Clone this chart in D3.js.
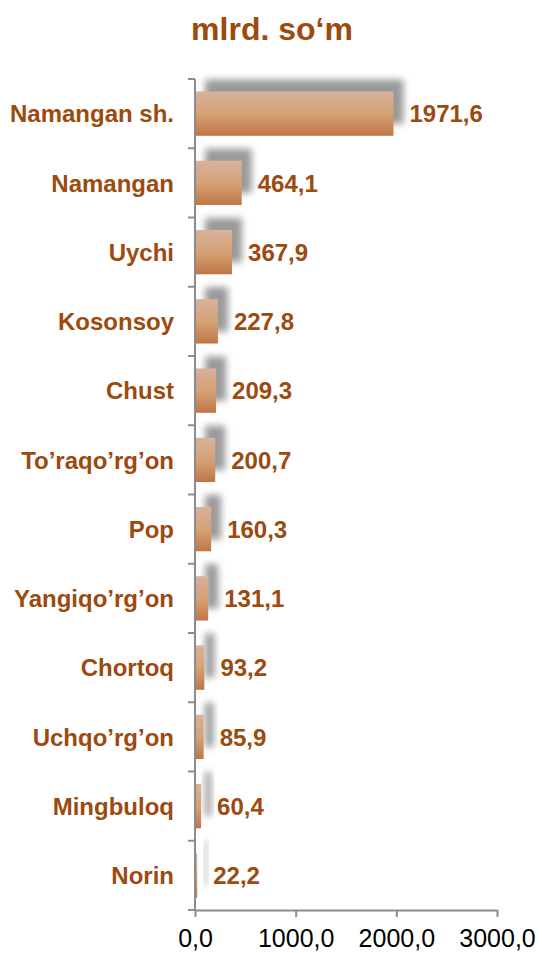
<!DOCTYPE html>
<html>
<head>
<meta charset="utf-8">
<script src="https://cdn.jsdelivr.net/npm/d3@7"></script>
<style>
  html, body { margin: 0; padding: 0; background: #fff; }
  svg { display: block; }
</style>
</head>
<body>
<div id="chart"></div>
<script>
// ma'lumotlar
const districts = ["Namangan sh.", "Namangan", "Uychi", "Kosonsoy", "Chust", "To’raqo’rg’on",
    "Pop", "Yangiqo’rg’on", "Chortoq", "Uchqo’rg’on", "Mingbuloq", "Norin"];
const amounts = [1971.6, 464.1, 367.9, 227.8, 209.3, 200.7, 160.3, 131.1, 93.2, 85.9, 60.4, 22.2];
const xTicks = [0, 1000, 2000, 3000];
const title = "mlrd. so‘m";

const W = 542, H = 953;
const M = { top: 79, right: 45, bottom: 43, left: 195 };
const brown = "#9c4a0e";
const fmt = v => v.toFixed(1).replace(".", ",");

const svg = d3.select("#chart").append("svg")
    .attr("width", W).attr("height", H)
    .style("font-family", "'Liberation Sans', Arial, sans-serif");

const defs = svg.append("defs");
const grad = defs.append("linearGradient")
    .attr("id", "barGrad").attr("x1", 0).attr("y1", 0).attr("x2", 0).attr("y2", 1);
grad.append("stop").attr("offset", "0%").attr("stop-color", "#d8b29c");
grad.append("stop").attr("offset", "55%").attr("stop-color", "#d49f72");
grad.append("stop").attr("offset", "100%").attr("stop-color", "#bf7645");

defs.append("filter").attr("id", "blur")
    .attr("x", "-50%").attr("y", "-50%").attr("width", "200%").attr("height", "200%")
    .append("feGaussianBlur").attr("stdDeviation", 3.5);

const x = d3.scaleLinear().domain([0, 3000]).range([M.left, W - M.right]);
const y = d3.scaleBand().domain(districts).range([M.top, H - M.bottom])
    .paddingInner(0.36).paddingOuter(0.18);
const band = d3.scaleBand().domain(districts).range([M.top, H - M.bottom]);

const data = districts.map((d, i) => ({ name: d, value: amounts[i] }));

// sarlavha
svg.append("text")
    .attr("x", 272).attr("y", 40)
    .attr("text-anchor", "middle")
    .attr("font-size", 32).attr("font-weight", "bold")
    .attr("fill", brown)
    .text(title);

// soyalar
svg.append("g").selectAll("rect").data(data).join("rect")
    .attr("x", x(0) + 10)
    .attr("y", d => y(d.name) - 12)
    .attr("width", d => x(d.value) - x(0))
    .attr("height", y.bandwidth())
    .attr("fill", "#9a9a9a")
    .attr("filter", "url(#blur)");

// ustunlar
svg.append("g").selectAll("rect").data(data).join("rect")
    .attr("x", x(0))
    .attr("y", d => y(d.name))
    .attr("width", d => x(d.value) - x(0))
    .attr("height", y.bandwidth())
    .attr("fill", "url(#barGrad)");

// qiymatlar
svg.append("g").selectAll("text").data(data).join("text")
    .attr("x", d => x(d.value) + 16)
    .attr("y", d => y(d.name) + y.bandwidth() / 2)
    .attr("dy", "0.36em")
    .attr("font-size", 24).attr("font-weight", "bold")
    .attr("fill", brown)
    .text(d => fmt(d.value));

// kategoriyalar
svg.append("g").selectAll("text").data(data).join("text")
    .attr("x", 174)
    .attr("y", d => y(d.name) + y.bandwidth() / 2)
    .attr("dy", "0.36em")
    .attr("text-anchor", "end")
    .attr("font-size", 24).attr("font-weight", "bold")
    .attr("fill", brown)
    .text(d => d.name);

// o'qlar
const axisColor = "#8c8c8c";
const yAxis = svg.append("g");
yAxis.append("line")
    .attr("x1", x(0)).attr("x2", x(0))
    .attr("y1", M.top).attr("y2", H - M.bottom)
    .attr("stroke", axisColor).attr("stroke-width", 2);
yAxis.selectAll("line.tick")
    .data(districts.map(d => band(d)).concat([H - M.bottom]))
    .join("line").attr("class", "tick")
    .attr("x1", x(0) - 7).attr("x2", x(0))
    .attr("y1", d => d).attr("y2", d => d)
    .attr("stroke", axisColor).attr("stroke-width", 2);

const xAxis = svg.append("g")
    .attr("transform", `translate(0,${H - M.bottom})`)
    .call(d3.axisBottom(x).tickValues(xTicks).tickFormat(fmt).tickSize(7).tickSizeOuter(0));
xAxis.select(".domain").attr("stroke", axisColor).attr("stroke-width", 2);
xAxis.selectAll(".tick line").attr("stroke", axisColor).attr("stroke-width", 2);
xAxis.selectAll(".tick text")
    .attr("y", 37).attr("dy", 0)
    .attr("font-size", 25)
    .attr("font-family", "'Liberation Sans', Arial, sans-serif")
    .attr("fill", "#000");
</script>
</body>
</html>
